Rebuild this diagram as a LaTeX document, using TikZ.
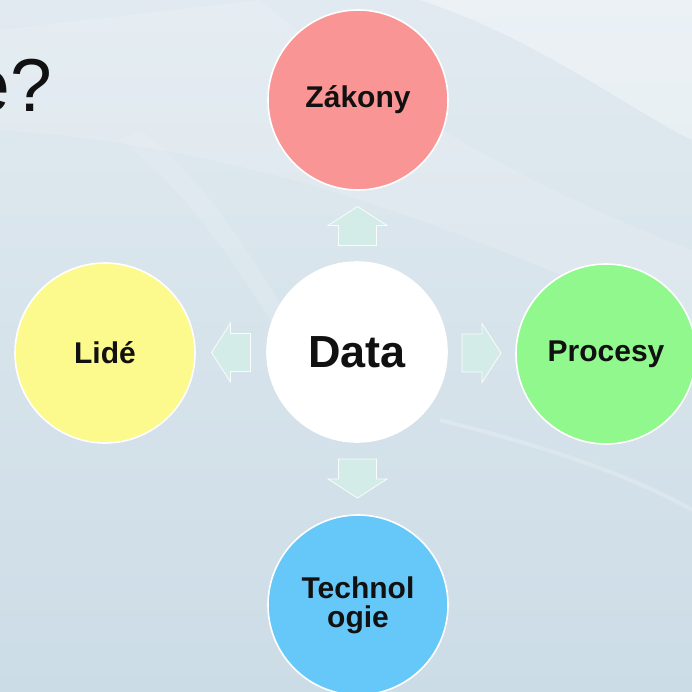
\documentclass[tikz,border=0pt]{standalone}
\usepackage{fontspec}
\setmainfont{Liberation Sans}
\usetikzlibrary{calc}
\definecolor{bgtop}{HTML}{E1EAF0}
\definecolor{bgbot}{HTML}{CCDCE6}
\definecolor{cred}{HTML}{FA9596}
\definecolor{cyel}{HTML}{FCFA8C}
\definecolor{cgrn}{HTML}{90F88C}
\definecolor{cblu}{HTML}{66C8F8}
\definecolor{arrfill}{HTML}{D4ECE8}
\definecolor{ink}{HTML}{111111}
\tikzset{
  bubble/.style={circle, draw=white, line width=1.6pt, minimum size=180pt, inner sep=0pt,
    text=ink, align=center, font=\bfseries\fontsize{30}{31}\selectfont},
  blockarrow/.pic={
    \fill[arrfill, draw=white!85!arrfill, line width=0.8pt]
      (-19.5,-19) -- (0.5,-19) -- (0.5,-29.5) -- (19.5,0) -- (0.5,29.5) -- (0.5,19) -- (-19.5,19) -- cycle;
  }
}
\begin{document}
\begin{tikzpicture}[x=1pt,y=-1pt]
\useasboundingbox (0,0) rectangle (692,692);
% background
\shade[top color=bgtop, bottom color=bgbot] (0,0) rectangle (692,692);
\fill[white, opacity=0.35] (420,0) .. controls (540,40) and (630,110) .. (692,140) -- (692,0) -- cycle;
\fill[white, opacity=0.15] (0,30) -- (260,0) .. controls (400,120) and (560,200) .. (692,250) -- (692,330) .. controls (520,260) and (300,150) .. (0,130) -- cycle;
\fill[white, opacity=0.12] (120,140) .. controls (200,200) and (260,300) .. (330,420) -- (345,420) .. controls (280,300) and (220,190) .. (140,130) -- cycle;
\draw[white, opacity=0.2, line width=4pt] (440,420) .. controls (560,450) and (640,480) .. (692,510);
% title fragment
\node[anchor=base east, inner sep=0pt, text=ink, font=\fontsize{75}{75}\selectfont] (title) at (52.3,112) {e?};
% circles
\node[bubble, fill=white, font=\bfseries\fontsize{45}{46}\selectfont] (D) at (357,352) {Data};
\node[bubble, fill=cred] (Z) at (358,100) {Zákony};
\node[bubble, fill=cyel] (L) at (105,353) {Lidé};
\node[bubble, fill=cgrn] (P) at (606,354) {Procesy};
\node[bubble, fill=cblu] (T) at (358,605) {Technol\\[-2pt]ogie};
% arrows
\pic[rotate=90] at ($(D)!0.5!(Z)$) {blockarrow};
\pic[rotate=180] at ($(D)!0.5!(L)$) {blockarrow};
\pic[rotate=0] at ($(D)!0.5!(P)$) {blockarrow};
\pic[rotate=-90] at ($(D)!0.5!(T)$) {blockarrow};
\end{tikzpicture}
\end{document}
